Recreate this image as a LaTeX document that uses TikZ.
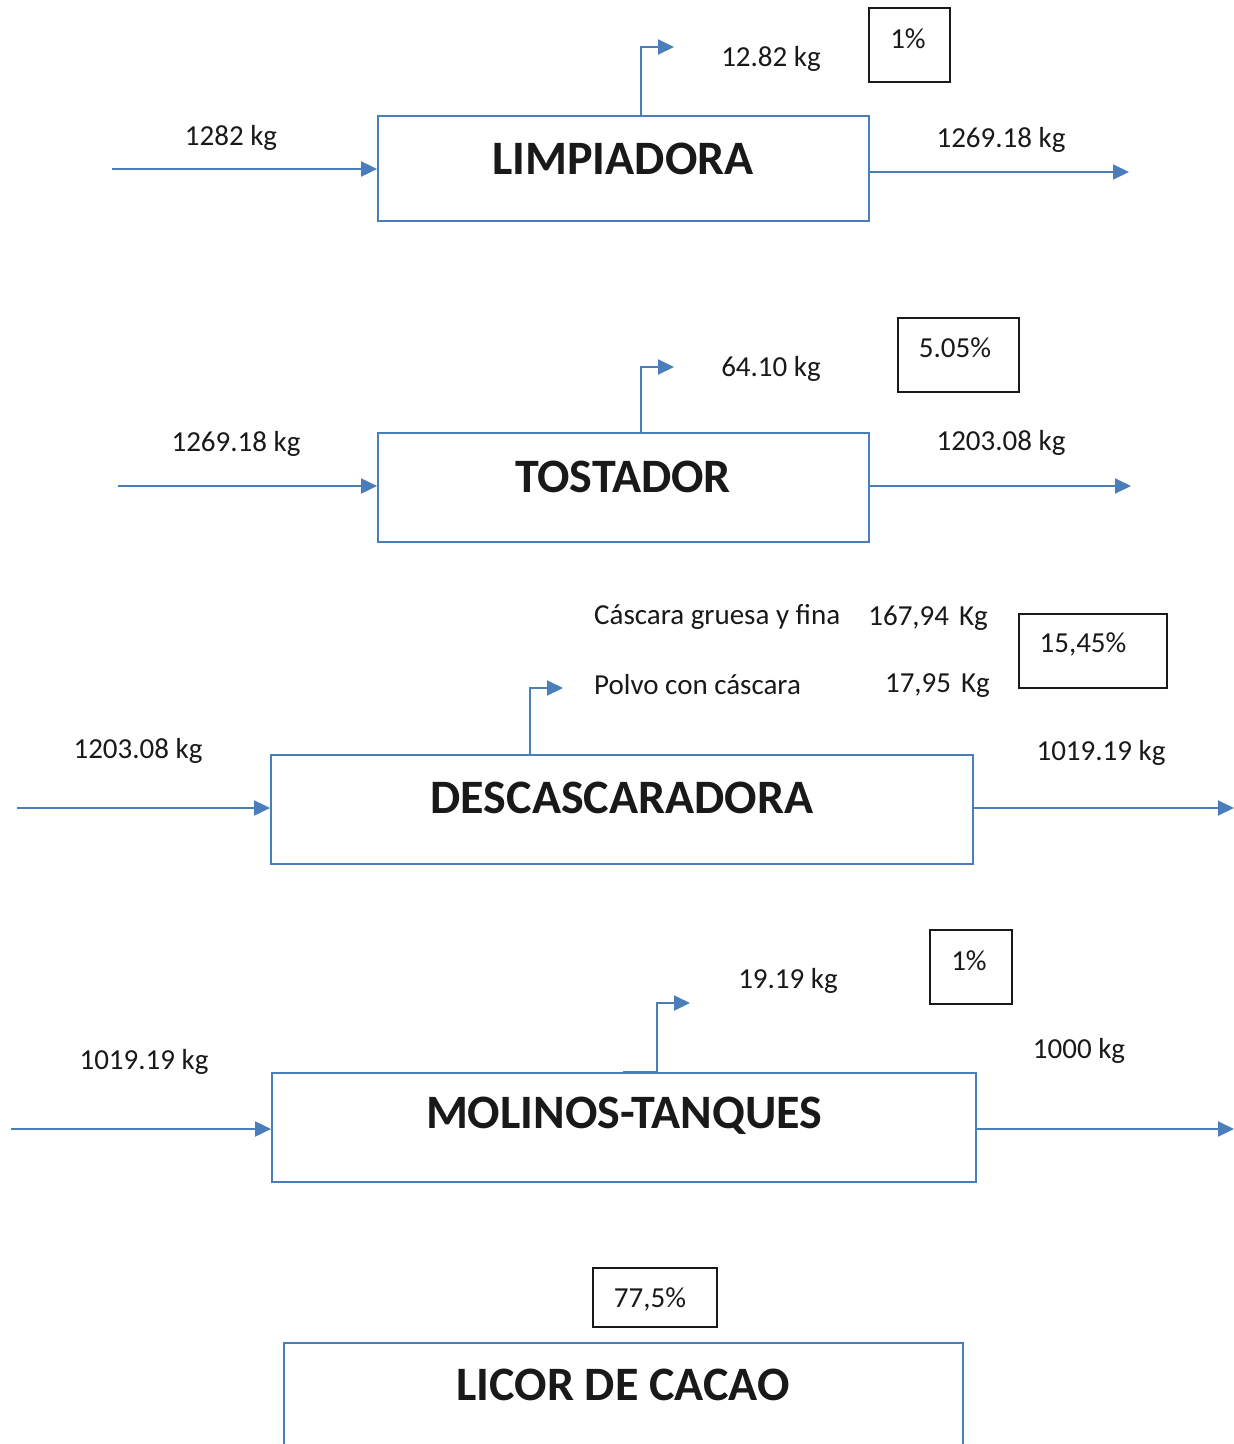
\documentclass[tikz,border=0pt]{standalone}
\usepackage{fontspec}
\setmainfont{Carlito}
\usetikzlibrary{arrows.meta}
\definecolor{flowblue}{RGB}{74,126,187}
\begin{document}
\begin{tikzpicture}[x=1pt,y=-1pt,
  procbox/.style={draw=flowblue,line width=1.8pt,inner sep=0pt},
  title/.style={font=\fontsize{48}{54}\selectfont\bfseries,text=black!90,inner sep=0pt},
  lbl/.style={font=\fontsize{29}{34}\selectfont,text=black!90,inner sep=0pt},
  pbox/.style={draw=black!90,line width=1.5pt,inner sep=0pt},
  flow/.style={draw=flowblue,line width=2pt,-{Triangle[length=16pt,width=15pt]}},
]
\useasboundingbox (0,0) rectangle (1234,1444);
\fill[white] (0,0) rectangle (1234,1444);

% ---------- LIMPIADORA ----------
\node[procbox,minimum width=491,minimum height=105] (b1) at (623.5,168.5) {};
\node[title] (t1) at (623,159) {LIMPIADORA};
\coordinate (in1) at (112,169);
\coordinate (out1) at (1129,172);
\coordinate (s1) at (607,116);
\coordinate (e1) at (674,47);
\draw[flow] (in1) -- (in1 -| b1.west);
\draw[flow] (out1 -| b1.east) -- (out1);
\draw[flow] (s1) -- (641,116) -- (641,47) -- (e1);
\node[lbl] (l1a) at (231,138) {1282 kg};
\node[lbl] (l1b) at (1001,140) {1269.18 kg};
\node[lbl] (l1c) at (771,59) {12.82 kg};
\node[pbox,minimum width=81,minimum height=74] (p1) at (909.5,45) {};
\node[lbl] (p1t) at (908,39) {1\%};

% ---------- TOSTADOR ----------
\node[procbox,minimum width=491,minimum height=109] (b2) at (623.5,487.5) {};
\node[title] (t2) at (623,477) {TOSTADOR};
\coordinate (in2) at (118,486);
\coordinate (out2) at (1131,486);
\coordinate (s2) at (607,433);
\coordinate (e2) at (674,367);
\draw[flow] (in2) -- (in2 -| b2.west);
\draw[flow] (out2 -| b2.east) -- (out2);
\draw[flow] (s2) -- (641,433) -- (641,367) -- (e2);
\node[lbl] (l2a) at (236,444) {1269.18 kg};
\node[lbl] (l2b) at (1001,443) {1203.08 kg};
\node[lbl] (l2c) at (771,369) {64.10 kg};
\node[pbox,minimum width=121,minimum height=74] (p2) at (958.5,355) {};
\node[lbl] (p2t) at (955,348) {5.05\%};

% ---------- DESCASCARADORA ----------
\node[procbox,minimum width=702,minimum height=109] (b3) at (622,809.5) {};
\node[title] (t3) at (622,798) {DESCASCARADORA};
\coordinate (in3) at (17,808);
\coordinate (out3) at (1234,808);
\coordinate (s3) at (497,755);
\coordinate (e3) at (563,688);
\draw[flow] (in3) -- (in3 -| b3.west);
\draw[flow] (out3 -| b3.east) -- (out3);
\draw[flow] (s3) -- (530,755) -- (530,688) -- (e3);
\node[lbl] (l3a) at (138,751) {1203.08 kg};
\node[lbl] (l3b) at (1101,753) {1019.19 kg};
\node[lbl,anchor=west] (l3c) at (594,617) {Cáscara gruesa y fina};
\node[lbl,anchor=east] (l3d) at (988,618) {167,94\hspace{10pt}Kg};
\node[lbl,anchor=west] (l3e) at (594,685) {Polvo con cáscara};
\node[lbl,anchor=east] (l3f) at (990,686) {17,95\hspace{10pt}Kg};
\node[pbox,minimum width=148,minimum height=74] (p3) at (1093,651) {};
\node[lbl] (p3t) at (1083,644) {15,45\%};

% ---------- MOLINOS-TANQUES ----------
\node[procbox,minimum width=704,minimum height=109] (b4) at (624,1127.5) {};
\node[title] (t4) at (624,1116) {MOLINOS-TANQUES};
\coordinate (in4) at (11,1129);
\coordinate (out4) at (1234,1129);
\coordinate (s4) at (623,1072);
\coordinate (e4) at (690,1003);
\draw[flow] (in4) -- (in4 -| b4.west);
\draw[flow] (out4 -| b4.east) -- (out4);
\draw[flow] (s4) -- (657,1072) -- (657,1003) -- (e4);
\node[lbl] (l4a) at (144,1062) {1019.19 kg};
\node[lbl] (l4b) at (1079,1051) {1000 kg};
\node[lbl] (l4c) at (788,981) {19.19 kg};
\node[pbox,minimum width=82,minimum height=74] (p4) at (971,967) {};
\node[lbl] (p4t) at (969,961) {1\%};

% ---------- LICOR DE CACAO ----------
\node[procbox,minimum width=679,minimum height=120] (b5) at (623.5,1403) {};
\node[title] (t5) at (623,1385) {LICOR DE CACAO};
\node[pbox,minimum width=124,minimum height=59] (p5) at (655,1297.5) {};
\node[lbl] (p5t) at (650,1299) {77,5\%};
\end{tikzpicture}
\end{document}
